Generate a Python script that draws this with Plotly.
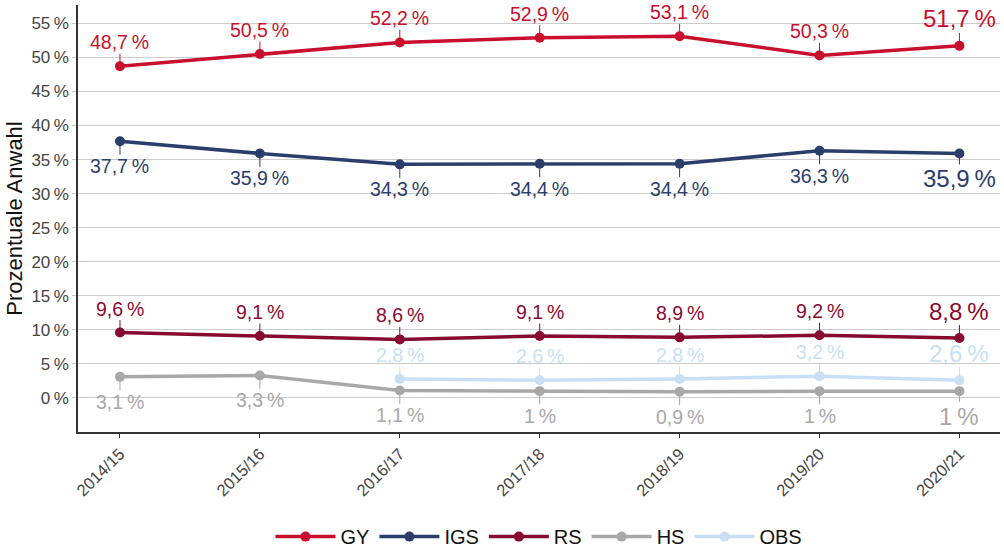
import plotly.graph_objects as go

years = ["2014/15", "2015/16", "2016/17", "2017/18", "2018/19", "2019/20", "2020/21"]
gy = [48.7, 50.5, 52.2, 52.9, 53.1, 50.3, 51.7]
igs = [37.7, 35.9, 34.3, 34.4, 34.4, 36.3, 35.9]
rs = [9.6, 9.1, 8.6, 9.1, 8.9, 9.2, 8.8]
hs = [3.1, 3.3, 1.1, 1.0, 0.9, 1.0, 1.0]
obs = [None, None, 2.8, 2.6, 2.8, 3.2, 2.6]

series = [
    ("GY", gy, "#c8102e", "above"),
    ("IGS", igs, "#2b3d6b", "below"),
    ("RS", rs, "#870a30", "above"),
    ("HS", hs, "#a8a8a8", "below"),
    ("OBS", obs, "#c8dff5", "above"),
]

FONT = "Liberation Sans, Arial, sans-serif"

def fmt(v):
    s = ("%.1f" % v).replace(".", ",")
    if s.endswith(",0"):
        s = s[:-2]
    return s + "\u2009%"

fig = go.Figure()
annotations = []
for name, vals, color, pos in series:
    fig.add_trace(go.Scatter(
        x=years, y=vals, name=name, mode="lines+markers",
        line=dict(color=color, width=3.5),
        marker=dict(color=color, size=10),
        connectgaps=False,
    ))
    for i, (yr, v) in enumerate(zip(years, vals)):
        if v is None:
            continue
        last = i == len(years) - 1
        size = 24 if last else 19.5
        ay = -24 if pos == "above" else 25
        if last:
            ay = -27 if pos == "above" else 25
        annotations.append(dict(
            x=yr, y=v, xref="x", yref="y", text=fmt(v),
            showarrow=True, arrowhead=0, arrowwidth=1, arrowcolor=color,
            ax=0, ay=ay, standoff=4,
            font=dict(family=FONT, size=size, color=color),
            borderpad=0,
        ))

ticks = list(range(0, 60, 5))
fig.update_layout(
    width=1004, height=553,
    margin=dict(l=78, r=4, t=5, b=121, autoexpand=False),
    plot_bgcolor="white", paper_bgcolor="white",
    font=dict(family=FONT),
    annotations=annotations,
    showlegend=True,
    legend=dict(orientation="h", x=0.5, xanchor="center", y=-0.245, yanchor="middle",
                font=dict(size=20, color="#111111"), itemwidth=60),
    xaxis=dict(
        type="category", range=[-0.3, 6.29], automargin=False,
        showline=True, linecolor="#333333", linewidth=1.5,
        ticks="outside", ticklen=4, tickcolor="#333333",
        tickangle=-45, tickfont=dict(size=16.5, color="#444444"),
        showgrid=False,
    ),
    yaxis=dict(
        range=[-5, 57.7], automargin=True,
        tickvals=ticks, ticktext=[f"{t}\u2009%" for t in ticks],
        showline=True, linecolor="#333333", linewidth=1.5,
        ticks="outside", ticklen=4, tickcolor="#cccccc",
        tickfont=dict(size=17, color="#444444"),
        showgrid=True, gridcolor="#cccccc", gridwidth=1,
        zeroline=False,
        title=dict(text="Prozentuale Anwahl", font=dict(size=22, color="#111111"), standoff=3),
    ),
)

fig.write_html("out.html", config={"displayModeBar": False},
               post_script="document.body.style.margin='0';document.body.style.overflow='hidden';")
